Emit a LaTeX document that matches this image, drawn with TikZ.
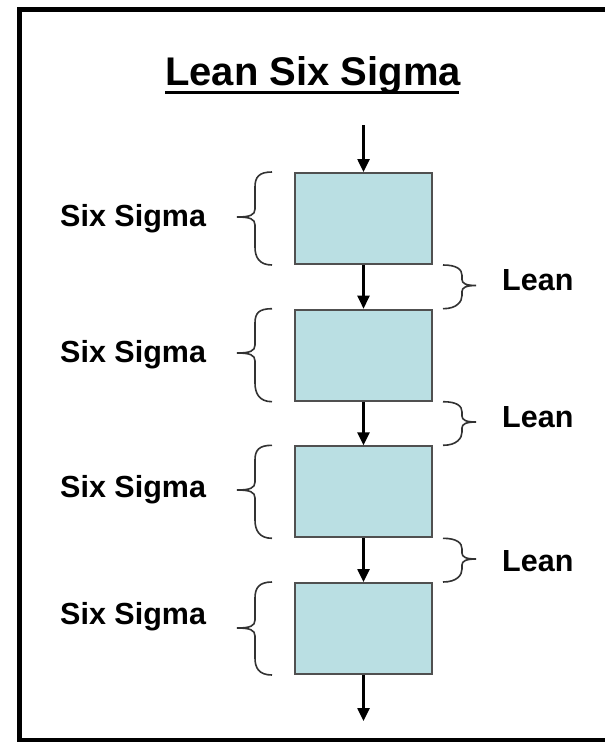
\documentclass[tikz,border=0pt]{standalone}
\usepackage{fontspec}
\setmainfont{Liberation Sans}
\usetikzlibrary{arrows.meta,calc}
\definecolor{boxfill}{RGB}{186,223,227}
\definecolor{boxline}{RGB}{80,80,80}
\definecolor{braceline}{RGB}{50,50,50}
\begin{document}
\begin{tikzpicture}[x=1pt,y=-1pt,
  stage/.style={draw=boxline,line width=2pt,fill=boxfill,minimum width=137pt,minimum height=91pt,inner sep=0pt},
  flow/.style={line width=2.5pt,-{Triangle[width=12pt,length=13pt]}},
  bracepath/.style={draw=braceline,line width=1.6pt},
  label/.style={font=\fontsize{30.5}{30.5}\selectfont\bfseries,inner sep=0pt,anchor=base west}]
\useasboundingbox (0,0) rectangle (605,742);
\fill[white] (0,0) rectangle (605,742);
% outer frame (open to the right)
\draw[line width=5pt] (640,9.5) -- (19.5,9.5) -- (19.5,740.5) -- (640,740.5);
% title
\node[font=\fontsize{40}{40}\selectfont\bfseries,inner sep=0pt,anchor=base west] (title) at (165,85) {Lean Six Sigma};
\draw[line width=3pt] ($(title.base west)+(0,7)$) -- ++(294,0);
% process stages
\foreach \i/\t in {1/172,2/308.7,3/445.3,4/582} {
  \node[stage,anchor=north] (s\i) at (363.5,\t) {};
}
\coordinate (in) at (363.5,125);
\coordinate (out) at (363.5,721);
\draw[flow] (in) -- (s1.north);
\draw[flow] (s1.south) -- (s2.north);
\draw[flow] (s2.south) -- (s3.north);
\draw[flow] (s3.south) -- (s4.north);
\draw[flow] (s4.south) -- (out);
% left braces spanning each stage
\foreach \i/\m in {1/217,2/353,3/490,4/628} {
  \coordinate (bt\i) at (272,0 |- s\i.north);
  \coordinate (bb\i) at (272,0 |- s\i.south);
  \draw[bracepath] (bt\i) .. controls ($(bt\i)+(-13,0)$) and (255,\m-40) .. (255,\m-30) -- (255,\m-8)
     .. controls (255,\m-2) and (250,\m) .. (237,\m)
     .. controls (250,\m) and (255,\m+2) .. (255,\m+8) -- (255,\m+30)
     .. controls (255,\m+40) and ($(bb\i)+(-13,0)$) .. (bb\i);
}
% right braces spanning each gap
\foreach \i/\j/\m in {1/2/285.5,2/3/422,3/4/559} {
  \coordinate (rt\i) at (443,0 |- s\i.south);
  \coordinate (rb\i) at (443,0 |- s\j.north);
  \draw[bracepath] (rt\i) .. controls ($(rt\i)+(14,0)$) and (462,\m-16) .. (462,\m-10) -- (462,\m-6)
     .. controls (462,\m-2) and (466,\m) .. (476,\m)
     .. controls (466,\m) and (462,\m+2) .. (462,\m+6) -- (462,\m+10)
     .. controls (462,\m+16) and ($(rb\i)+(14,0)$) .. (rb\i);
}
% labels
\node[label] (ss1) at (60,226) {Six Sigma};
\node[label] (ss2) at (60,362) {Six Sigma};
\node[label] (ss3) at (60,497) {Six Sigma};
\node[label] (ss4) at (60,624) {Six Sigma};
\node[label] (ln1) at (502,290) {Lean};
\node[label] (ln2) at (502,427) {Lean};
\node[label] (ln3) at (502,571) {Lean};
\end{tikzpicture}
\end{document}
